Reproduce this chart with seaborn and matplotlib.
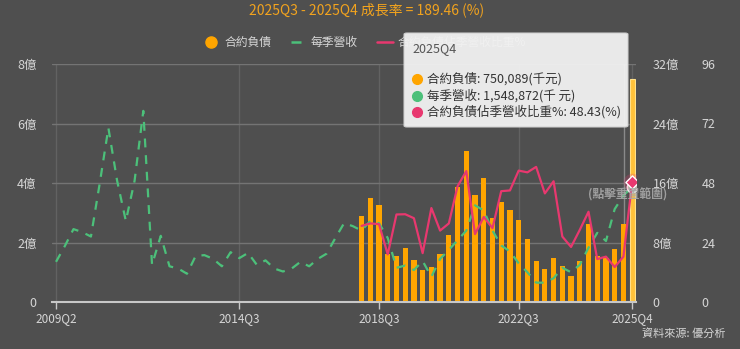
import matplotlib
matplotlib.use("Agg")
import matplotlib.pyplot as plt
import seaborn as sns
import numpy as np
import pandas as pd
from matplotlib.lines import Line2D
from matplotlib.patches import FancyBboxPatch

# ---------------- data ----------------
quarters = []
_y, _q = 2009, 2
while (_y, _q) <= (2025, 4):
    quarters.append(f"{_y}Q{_q}")
    _q += 1
    if _q > 4:
        _q, _y = 1, _y + 1

# 每季營收 (億元), 2009Q2 .. 2025Q4
revenue = [5.4, 7.5, 9.8, 9.4, 8.8, 15.9, 23.4, 16.3, 10.9, 16.3,
           25.7, 5.0, 8.9, 4.8, 4.5, 3.8, 6.2, 6.3, 5.8, 4.8,
           6.7, 5.9, 6.6, 5.0, 5.6, 4.5, 4.1, 4.5, 5.4, 4.8,
           5.8, 6.5, 8.6, 10.6, 10.2,
           9.6, 10.9, 10.6, 8.6, 4.6, 4.9, 4.3, 5.5, 3.4, 5.8,
           7.0, 8.3, 9.6, 13.0, 12.3, 9.6, 7.6, 6.8, 5.2, 4.0,
           2.6, 2.6, 3.2, 4.6, 4.0, 5.0, 7.3, 9.3, 8.2, 12.5,
           14.3, 15.49]

liab_start = "2018Q1"
# 合約負債 (億元), 2018Q1 .. 2025Q4
liability = [2.89, 3.48, 3.26, 1.62, 1.56, 1.80, 1.42, 1.07, 1.19, 1.63,
             2.24, 3.85, 5.08, 3.60, 4.16, 2.84, 3.35, 3.10, 2.74, 2.12,
             1.38, 1.10, 1.47, 1.21, 0.87, 1.38, 2.63, 1.56, 1.47, 1.77,
             2.61, 7.50]
# 合約負債佔季營收比重 (%), 2018Q1 .. 2025Q4
ratio = [30.7, 31.7, 31.4, 19.2, 35.3, 35.4, 33.8, 19.7, 37.9, 28.8,
         31.7, 46.7, 52.8, 27.4, 34.3, 29.8, 44.7, 45.0, 53.0, 52.3,
         54.5, 43.8, 48.7, 26.4, 22.2, 29.1, 36.4, 17.3, 18.3, 14.1,
         18.3, 48.43]

x_tick_labels = ["2009Q2", "2014Q3", "2018Q3", "2022Q3", "2025Q4"]
left_ticks = [0, 2, 4, 6, 8]
left_labels = ["0", "2億", "4億", "6億", "8億"]
mid_ticks = [0, 8, 16, 24, 32]
mid_labels = ["0", "8億", "16億", "24億", "32億"]
right_ticks = [0, 24, 48, 72, 96]
right_labels = ["0", "24", "48", "72", "96"]

title = "2025Q3 - 2025Q4 成長率 = 189.46 (%)"
legend_names = ["合約負債", "每季營收", "合約負債佔季營收比重%"]
tooltip_title = "2025Q4"
tooltip_lines = ["合約負債: 750,089(千元)", "每季營收: 1,548,872(千 元)",
                 "合約負債佔季營收比重%: 48.43(%)"]

# ---------------- style ----------------
BG = "#4f4f4f"
ORANGE = "#ffa500"
GREEN = "#4cc07a"
PINK = "#e8386f"
GRID = "#747474"
TXT = "#d6d6d6"

sns.set_theme(style="dark")
plt.rcParams["font.family"] = ["Noto Sans CJK TC", "DejaVu Sans"]
plt.rcParams["axes.unicode_minus"] = False

W, H = 740, 349
fig = plt.figure(figsize=(W / 100, H / 100), dpi=100, facecolor=BG)
fx = lambda px: px / W
fy = lambda py: 1 - py / H

L, R, T, B = 52, 636, 64, 302
ax = fig.add_axes([fx(L), fy(B), fx(R - L), (B - T) / H])
ax.set_facecolor(BG)

pos_all = np.arange(len(quarters))
i0 = quarters.index(liab_start)
bar_pos = pos_all[i0:]

df_bar = pd.DataFrame({"pos": bar_pos, "liab": liability})
df_rev = pd.DataFrame({"pos": pos_all, "rev": revenue})
df_rat = pd.DataFrame({"pos": bar_pos, "ratio": ratio})

sns.barplot(data=df_bar, x="pos", y="liab", native_scale=True, width=0.6,
            color=ORANGE, saturation=1, ax=ax, zorder=2,
            edgecolor="none", linewidth=0)
# hovered (last) bar highlighted
ax.patches[-1].set_facecolor("#ffc23a")
ax.patches[-1].set_edgecolor("#ffe08a")
ax.patches[-1].set_linewidth(0.8)

xl = (-0.46, 66.44)
ax.set_xlim(*xl)
ax.set_ylim(0, 8)
ax.set_yticks(left_ticks)
ax.set_yticklabels(left_labels)
ax.set_xticks([quarters.index(t) for t in x_tick_labels])
ax.set_xticklabels(x_tick_labels)
ax.set_xlabel("")
ax.set_ylabel("")
ax.grid(axis="y", color=GRID, lw=1)
ax.grid(axis="x", color="#626262", lw=1)
ax.set_axisbelow(True)
for s in ["top", "right", "left"]:
    ax.spines[s].set_visible(False)
ax.spines["bottom"].set_color("#c8c8c8")
ax.spines["bottom"].set_linewidth(1.5)
ax.tick_params(axis="y", length=0, pad=11, labelsize=9, labelcolor=TXT)
ax.tick_params(axis="x", length=5, width=1, color="#c8c8c8", pad=2,
               labelsize=8.5, labelcolor=TXT, bottom=True)

# crosshair
ax.axvline(pos_all[-1] - 0.9, color="#8a8a8a", lw=1, zorder=1)

ax2 = ax.twinx()
ax2.patch.set_visible(False)
sns.lineplot(data=df_rev, x="pos", y="rev", ax=ax2, color=GREEN, lw=1.6,
             linestyle=(0, (4, 3.5)))
ax2.scatter([pos_all[-1]], [revenue[-1]], s=55, facecolor="#9ad8b0",
            edgecolor="white", lw=1.2, zorder=5)
ax2.set_ylim(0, 32)
ax2.set_yticks(mid_ticks)
ax2.set_yticklabels(mid_labels)
ax2.tick_params(axis="y", length=0, pad=12, labelsize=9, labelcolor=TXT)

ax3 = ax.twinx()
ax3.patch.set_visible(False)
sns.lineplot(data=df_rat, x="pos", y="ratio", ax=ax3, color=PINK, lw=1.6)
ax3.scatter([bar_pos[-1]], [ratio[-1]], s=160, color=PINK, alpha=0.25,
            lw=0, zorder=5)
ax3.scatter([bar_pos[-1]], [ratio[-1]], s=45, marker="D", color=PINK,
            edgecolor="white", lw=1, zorder=6)
ax3.set_ylim(0, 96)
ax3.set_yticks(right_ticks)
ax3.set_yticklabels(right_labels)
ax3.tick_params(axis="y", length=0, pad=47, labelsize=9, labelcolor=TXT)

for a in (ax2, ax3):
    a.set_xlim(*xl)
    a.set_xlabel("")
    a.set_ylabel("")
    a.grid(False)
    for s in a.spines.values():
        s.set_visible(False)

# reset-zoom text
fig.text(fx(628), fy(195), "(點擊重置範圍)", ha="center", va="center",
         fontsize=8.5, color="#a8a8a8", fontweight="bold", alpha=0.9, zorder=20)

# title
fig.text(fx(367), fy(10), title, ha="center", va="center", fontsize=10,
         color="#f2a31e")

# legend (manual)
ly = fy(42)
fig.add_artist(Line2D([fx(211)], [ly], marker="o", ms=8, color=ORANGE,
                      lw=0, transform=fig.transFigure, zorder=5))
fig.text(fx(224), ly, legend_names[0], va="center", fontsize=8.5, color=TXT, zorder=5)
fig.add_artist(Line2D([fx(291), fx(308)], [ly, ly], color=GREEN, lw=1.8,
                      linestyle=(0, (4, 3)), transform=fig.transFigure, zorder=5))
fig.text(fx(311), ly, legend_names[1], va="center", fontsize=8.5, color=TXT, zorder=5)
fig.add_artist(Line2D([fx(377), fx(393)], [ly, ly], color=PINK, lw=1.8,
                      transform=fig.transFigure, zorder=5))
fig.text(fx(397), ly, legend_names[2], va="center", fontsize=8.5, color=TXT, zorder=5)

# tooltip
box = FancyBboxPatch((fx(404), fy(127)), fx(224), (127 - 33) / H,
                     boxstyle="round,pad=0,rounding_size=0.004",
                     transform=fig.transFigure, facecolor="#f2f2f2",
                     edgecolor="#cfcfcf", lw=0.8, alpha=0.95, zorder=30)
fig.add_artist(box)
fig.text(fx(412), fy(49), tooltip_title, va="center", fontsize=9,
         color="#555555", zorder=31)
for i, (txt, c) in enumerate(zip(tooltip_lines, [ORANGE, GREEN, PINK])):
    yy = fy(79 + i * 16.5)
    fig.add_artist(Line2D([fx(417)], [yy], marker="o", ms=7, color=c, lw=0,
                          transform=fig.transFigure, zorder=31))
    fig.text(fx(427), yy, txt, va="center", fontsize=9, color="#333333",
             zorder=31)

# source
fig.text(fx(725), fy(333), "資料來源: 優分析", ha="right", va="center",
         fontsize=8, color=TXT)

fig.savefig("out.png", dpi=100, facecolor=BG)
